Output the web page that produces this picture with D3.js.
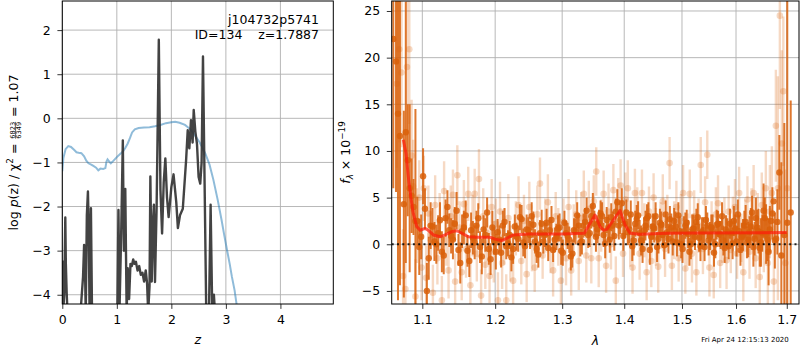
<!DOCTYPE html>
<html>
<head>
<meta charset="utf-8">
<script src="https://cdn.jsdelivr.net/npm/d3@7"></script>
<style>
body { margin: 0; background: #fff; }
svg { font-family: "DejaVu Sans", sans-serif; }
</style>
</head>
<body>
<svg id="fig" width="800" height="350"></svg>
<script>
// ---- p(z) panel data ----
const zTicks = [0, 1, 2, 3, 4];
const pTicks = [-4, -3, -2, -1, 0, 1, 2];

// chi2 curve (blue)
const chiZ = [0, 0.02, 0.06, 0.11, 0.16, 0.22, 0.26, 0.3, 0.35, 0.4, 0.44, 0.48, 0.53, 0.57, 0.62, 0.66, 0.7, 0.75, 0.79, 0.81, 0.83, 0.86, 0.89, 0.94, 1.0, 1.07, 1.12, 1.16, 1.2, 1.24, 1.28, 1.33, 1.4, 1.5, 1.6, 1.7, 1.8, 1.9, 2.0, 2.07, 2.15, 2.25, 2.35, 2.43, 2.52, 2.62, 2.7, 2.77, 2.85, 2.92, 2.97, 3.02, 3.07, 3.11, 3.16, 3.2, 3.3];
const chiVal = [-1.2, -0.9, -0.7, -0.63, -0.65, -0.72, -0.77, -0.78, -0.79, -0.86, -0.96, -1.02, -1.05, -1.08, -1.12, -1.18, -1.14, -1.15, -1.13, -0.98, -0.93, -0.98, -1.02, -0.96, -0.88, -0.8, -0.74, -0.66, -0.57, -0.45, -0.32, -0.25, -0.22, -0.21, -0.2, -0.18, -0.15, -0.11, -0.09, -0.08, -0.1, -0.15, -0.25, -0.38, -0.55, -0.79, -1.05, -1.39, -1.85, -2.3, -2.65, -2.98, -3.3, -3.59, -3.9, -4.25, -5.0];

// log p(z) curve (black)
const pzZ = [0, 0.01, 0.018, 0.035, 0.055, 0.065, 0.08, 0.095, 0.15, 0.3, 0.34, 0.38, 0.4, 0.415, 0.43, 0.45, 0.47, 0.485, 0.5, 0.525, 0.545, 0.6, 0.98, 1.01, 1.03, 1.05, 1.08, 1.11, 1.13, 1.155, 1.18, 1.2, 1.225, 1.25, 1.275, 1.3, 1.325, 1.35, 1.38, 1.41, 1.44, 1.47, 1.5, 1.53, 1.555, 1.575, 1.6, 1.615, 1.64, 1.665, 1.68, 1.7, 1.73, 1.77, 1.79, 1.8, 1.83, 1.86, 1.89, 1.92, 1.95, 2.0, 2.04, 2.09, 2.12, 2.16, 2.21, 2.27, 2.3, 2.33, 2.36, 2.39, 2.41, 2.44, 2.47, 2.5, 2.53, 2.555, 2.58, 2.61, 2.64, 2.69, 2.72, 2.75, 2.78, 2.8, 2.85];
const pzVal = [-3.3, -3.25, -4.35, -4.0, -2.25, -3.3, -3.95, -4.4, -6, -6, -4.3, -3.6, -2.87, -3.3, -4.4, -2.2, -1.66, -2.5, -4.4, -2.04, -4.4, -6, -6, -4.4, -2.08, -4.3, -2.6, -0.5, -3.0, -1.6, -4.4, -3.4, -4.1, -3.3, -3.35, -3.2, -3.3, -3.25, -3.45, -3.35, -3.55, -3.5, -3.7, -3.45, -3.75, -4.4, -3.8, -1.32, -3.7, -2.3, -1.96, -3.71, -2.0, 1.78, -0.5, -1.62, -2.61, -1.45, -0.91, -1.79, -2.24, -1.56, -1.27, -1.9, -2.49, -2.19, -2.05, -0.96, -0.27, -0.68, -0.04, -0.55, 0.19, -0.3, -0.58, -1.33, -1.48, -1.0, 1.4, -1.5, -4.4, -4.4, -1.96, -4.4, -4.0, -4.4, -6];

// ---- spectrum panel data ----
const lamTicks = [1.1, 1.2, 1.3, 1.4, 1.5, 1.6, 1.7];
const fTicks = [-5, 0, 5, 10, 15, 20, 25];

// binned spectrum (dark orange), first grid
const darkLam = [1.066, 1.071, 1.076, 1.081, 1.086, 1.091, 1.096, 1.101, 1.106, 1.111, 1.116, 1.121, 1.126, 1.131, 1.136, 1.141, 1.146, 1.151, 1.156, 1.161, 1.166, 1.171, 1.176, 1.181, 1.186, 1.191, 1.196, 1.201, 1.206, 1.211, 1.216, 1.221, 1.226, 1.231, 1.236, 1.241, 1.246, 1.251, 1.256, 1.261, 1.266, 1.271, 1.276, 1.281, 1.286, 1.291, 1.296, 1.301, 1.306, 1.311, 1.316, 1.321, 1.326, 1.331, 1.336, 1.341, 1.346, 1.351, 1.356, 1.361, 1.366, 1.371, 1.376, 1.381, 1.386, 1.391, 1.396, 1.401, 1.406, 1.411, 1.416, 1.421, 1.426, 1.431, 1.436, 1.441, 1.446, 1.451, 1.456, 1.461, 1.466, 1.471, 1.476, 1.481, 1.486, 1.491, 1.496, 1.501, 1.506, 1.511, 1.516, 1.521, 1.526, 1.531, 1.536, 1.541, 1.546, 1.551, 1.556, 1.561, 1.566, 1.571, 1.576, 1.581, 1.586, 1.591, 1.596, 1.601, 1.606, 1.611, 1.616, 1.621, 1.626, 1.631, 1.636, 1.641, 1.646, 1.651, 1.656, 1.661, 1.666, 1.671, 1.676, 1.681, 1.685, 1.689, 1.695, 1.701, 1.708];
const darkFlux = [19.6, 11.6, 4.3, 9.0, 5.2, 2.5, -0.3, 7.3, -5.0, 2.0, 0.3, 1.2, -0.8, 2.8, 1.5, 0.5, 3.6, -2.0, 1.8, -0.7, 1.5, 0.2, 2.8, -1.3, 1.0, -0.5, 1.8, -0.8, 0.5, 2.0, -0.2, 1.0, -0.5, 0.8, 2.9, 0.2, 1.6, 1.0, 2.1, -0.5, 1.2, 0.3, 2.3, 1.5, -0.6, 0.8, 1.8, -0.9, 1.2, 0.5, -1.0, 1.4, 2.0, 0.3, 2.4, 1.0, 3.0, 2.2, 1.6, 3.3, 1.0, 2.6, 0.5, 2.0, 3.5, 2.0, 4.4, 2.2, 1.3, 3.2, 0.4, 2.7, 1.2, -0.5, 2.0, 3.0, 0.8, 1.7, -0.3, 2.3, 1.0, 3.2, 0.6, 1.8, 2.5, 0.2, 1.4, -0.5, 2.0, 1.1, 0.0, 1.7, 2.4, 0.7, 1.3, -0.3, 2.0, 0.9, 1.6, 0.0, 2.2, 1.0, 0.4, 1.6, -0.2, 1.2, 2.5, 0.3, 1.4, 0.8, 2.0, 0.2, 1.3, 3.4, 0.6, 1.8, -0.4, 1.2, 2.8, 0.5, 1.6, 3.3, 0.4, 2.4, 7.7, -1.2, 1.0, 2.3, 3.4];
const darkErr = [14, 16, 10, 6, 4, 12, 3, 3, 3, 2.5, 2.1, 1.9, 2.2, 2.0, 1.8, 2.1, 2.0, 2.2, 1.8, 1.7, 1.9, 1.8, 1.6, 1.9, 1.8, 1.7, 1.8, 1.9, 1.5, 1.6, 1.4, 1.5, 1.6, 1.5, 1.4, 1.5, 1.6, 1.5, 1.4, 1.5, 1.4, 1.3, 1.5, 1.4, 1.3, 1.4, 1.5, 1.4, 1.3, 1.4, 1.5, 1.4, 1.3, 1.4, 1.5, 1.4, 1.3, 1.4, 1.5, 1.4, 1.3, 1.4, 1.4, 1.5, 1.4, 1.5, 1.6, 1.5, 1.4, 1.5, 1.6, 1.5, 1.4, 1.5, 1.6, 1.5, 1.4, 1.5, 1.6, 1.5, 1.4, 1.5, 1.6, 1.5, 1.4, 1.5, 1.6, 1.5, 1.4, 1.5, 1.6, 1.5, 1.4, 1.5, 1.6, 1.5, 1.4, 1.5, 1.6, 1.5, 1.4, 1.5, 1.6, 1.5, 1.4, 1.5, 1.6, 1.6, 1.7, 1.5, 1.6, 1.7, 1.7, 1.8, 1.8, 1.9, 2.0, 2.0, 2.2, 2.3, 2.5, 2.8, 3.0, 3.5, 4.0, 10, 12, 30, 12];

// binned spectrum (dark orange), second interleaved grid
const dark2Lam = [1.0625, 1.0685, 1.0785, 1.0835, 1.0885, 1.0935, 1.0985, 1.1035, 1.1085, 1.1135, 1.1185, 1.1235, 1.1285, 1.1335, 1.1385, 1.1435, 1.1485, 1.1535, 1.1585, 1.1635, 1.1685, 1.1735, 1.1785, 1.1835, 1.1885, 1.1935, 1.1985, 1.2035, 1.2085, 1.2135, 1.2185, 1.2235, 1.2285, 1.2335, 1.2385, 1.2435, 1.2485, 1.2535, 1.2585, 1.2635, 1.2685, 1.2735, 1.2785, 1.2835, 1.2885, 1.2935, 1.2985, 1.3035, 1.3085, 1.3135, 1.3185, 1.3235, 1.3285, 1.3335, 1.3385, 1.3435, 1.3485, 1.3535, 1.3585, 1.3635, 1.3685, 1.3735, 1.3785, 1.3835, 1.3885, 1.3935, 1.3985, 1.4035, 1.4085, 1.4135, 1.4185, 1.4235, 1.4285, 1.4335, 1.4385, 1.4435, 1.4485, 1.4535, 1.4585, 1.4635, 1.4685, 1.4735, 1.4785, 1.4835, 1.4885, 1.4935, 1.4985, 1.5035, 1.5085, 1.5135, 1.5185, 1.5235, 1.5285, 1.5335, 1.5385, 1.5435, 1.5485, 1.5535, 1.5585, 1.5635, 1.5685, 1.5735, 1.5785, 1.5835, 1.5885, 1.5935, 1.5985, 1.6035, 1.6085, 1.6135, 1.6185, 1.6235, 1.6285, 1.6335, 1.6385, 1.6435, 1.6485, 1.6535, 1.6585, 1.6635, 1.6685, 1.6735, 1.6785];
const dark2Flux = [22, 14, 12, 6.0, 4.0, 2.5, 0.8, 3.8, -1.5, 1.9, 0.0, 2.6, -1.2, 4.0, 0.9, 2.2, -0.6, 1.4, 3.1, -1.8, 0.7, 2.0, -0.3, 1.6, 3.4, -1.6, 0.4, 1.3, -0.9, 2.4, 0.1, -1.4, 1.9, 0.6, 2.7, -0.2, 1.5, 3.0, 0.3, -1.1, 2.2, 1.0, -0.4, 2.6, 0.5, 1.7, -0.7, 2.3, 0.9, -1.3, 1.5, 3.1, 0.2, 2.0, 3.6, 1.2, 4.1, 0.8, 2.3, 3.0, 0.1, 1.8, 2.9, 0.9, 4.5, 2.6, 0.9, 3.4, 1.6, -0.2, 2.2, 3.1, 0.4, 1.5, 2.8, -0.6, 1.9, 3.0, 0.6, 2.1, -0.1, 1.3, 2.7, 0.3, 1.9, 3.1, 0.0, 1.4, 2.3, -0.8, 1.6, 0.8, 2.9, -0.2, 1.5, 2.6, 0.4, 1.8, -0.9, 2.1, 1.1, 3.0, -0.4, 1.3, 2.2, 0.1, 1.7, 3.2, -0.6, 1.0, 2.4, 0.5, 1.9, -0.3, 2.8, 1.4, 0.2, 3.6, 1.1, -0.8, 2.5, 4.6, 0.6];
const dark2Err = [16, 20, 14, 9, 3, 2.6, 2.4, 2.2, 2.3, 2.0, 2.1, 1.9, 2.0, 1.8, 1.9, 1.8, 1.7, 1.8, 1.6, 1.7, 1.8, 1.6, 1.7, 1.5, 1.6, 1.7, 1.5, 1.4, 1.6, 1.5, 1.4, 1.5, 1.3, 1.4, 1.5, 1.3, 1.4, 1.5, 1.3, 1.4, 1.5, 1.3, 1.4, 1.5, 1.3, 1.4, 1.5, 1.3, 1.4, 1.5, 1.3, 1.4, 1.5, 1.3, 1.4, 1.5, 1.4, 1.6, 1.4, 1.5, 1.6, 1.4, 1.5, 1.6, 1.4, 1.5, 1.6, 1.4, 1.5, 1.6, 1.4, 1.5, 1.6, 1.4, 1.5, 1.6, 1.4, 1.5, 1.6, 1.4, 1.5, 1.6, 1.4, 1.5, 1.6, 1.4, 1.5, 1.6, 1.4, 1.5, 1.6, 1.4, 1.5, 1.6, 1.4, 1.5, 1.6, 1.4, 1.5, 1.6, 1.4, 1.5, 1.6, 1.5, 1.6, 1.7, 1.5, 1.6, 1.7, 1.7, 1.8, 1.9, 2.0, 2.1, 2.2, 2.4, 2.6, 2.9, 3.2, 3.6];

// individual exposures (light orange)
const lightLam = [1.067, 1.070, 1.073, 1.075, 1.078, 1.080, 1.083, 1.086, 1.088, 1.091, 1.093, 1.096, 1.099, 1.102, 1.105, 1.108, 1.111, 1.114, 1.117, 1.120, 1.123, 1.126, 1.129, 1.132, 1.135, 1.138, 1.141, 1.144, 1.147, 1.150, 1.153, 1.156, 1.159, 1.162, 1.165, 1.168, 1.171, 1.174, 1.177, 1.180, 1.183, 1.186, 1.189, 1.192, 1.195, 1.198, 1.201, 1.204, 1.207, 1.210, 1.213, 1.216, 1.219, 1.222, 1.226, 1.230, 1.234, 1.238, 1.242, 1.246, 1.250, 1.254, 1.258, 1.262, 1.266, 1.270, 1.274, 1.278, 1.282, 1.286, 1.290, 1.294, 1.298, 1.302, 1.306, 1.310, 1.314, 1.318, 1.322, 1.326, 1.330, 1.334, 1.338, 1.342, 1.346, 1.350, 1.354, 1.358, 1.362, 1.366, 1.370, 1.374, 1.378, 1.382, 1.386, 1.390, 1.394, 1.398, 1.402, 1.406, 1.410, 1.414, 1.418, 1.422, 1.426, 1.430, 1.434, 1.438, 1.442, 1.446, 1.450, 1.454, 1.458, 1.462, 1.466, 1.470, 1.474, 1.478, 1.482, 1.486, 1.490, 1.494, 1.498, 1.502, 1.506, 1.510, 1.514, 1.518, 1.522, 1.526, 1.530, 1.534, 1.538, 1.542, 1.546, 1.550, 1.554, 1.558, 1.562, 1.566, 1.570, 1.574, 1.578, 1.582, 1.586, 1.590, 1.594, 1.598, 1.602, 1.606, 1.610, 1.614, 1.618, 1.622, 1.626, 1.630, 1.634, 1.638, 1.642, 1.646, 1.650, 1.654, 1.658, 1.662, 1.666, 1.670, 1.674, 1.678, 1.682, 1.686, 1.690, 1.693, 1.697, 1.701];
const lightFlux = [17.2, 20.9, 18.4, -3.4, -4.8, 19.0, 20.9, 9.5, 6.2, -5.6, 2.0, 5.0, -2.5, 6.0, -3.6, 3.3, 1.0, -5.2, 4.2, -1.5, 2.5, -6.0, 5.7, 0.5, -2.8, 3.0, 5.3, -4.0, 7.4, 1.8, -3.0, 4.3, -0.5, 5.4, -4.4, 2.0, 5.4, -1.0, 7.0, -5.5, 3.0, -2.2, 1.2, -3.4, 4.0, -0.8, 2.2, -6.0, 3.5, -2.0, 0.8, -6.0, 2.8, -1.0, -3.9, 1.7, 4.2, -1.8, 2.5, -3.2, 4.0, 0.0, -2.5, 3.2, 6.5, -1.2, 2.0, 4.5, -0.4, -2.8, 3.0, 0.8, -3.9, 2.4, -1.5, 4.0, -2.8, 1.5, 3.2, -1.8, 2.8, 5.4, -1.2, 3.8, -1.5, 4.6, 7.8, -1.5, 2.0, 5.4, -2.3, 3.5, 0.0, 5.8, -3.9, 4.0, 6.3, -1.0, 4.8, 6.0, 0.3, -2.5, 5.5, 3.0, -1.0, 5.5, 1.5, -3.0, 3.5, -1.8, 5.0, 0.8, -2.4, 2.0, 4.6, -0.5, 2.6, 8.7, -2.3, 1.5, 4.0, -1.5, 2.5, 5.5, -2.6, 0.5, 5.4, -1.0, 3.0, -3.0, 2.0, 8.5, -0.5, 4.5, 9.6, -2.5, 1.8, -3.3, 3.2, 4.4, -2.0, 0.8, 2.4, -1.7, 3.5, -0.6, 2.2, 4.0, -1.0, 5.5, 0.7, -3.0, 2.0, 4.8, -0.8, 3.0, 5.5, -1.5, 2.5, -3.5, 4.2, 1.0, 6.0, -2.0, 3.5, 5.5, -4.0, 12.7, 6.0, 24.5, 10.8, 16.4, -2.0, 6.0];
const lightErr = [9, 10, 8, 5, 5, 9, 8, 6, 5, 4, 4, 4, 3.5, 3.5, 3.5, 3, 2.6, 3, 3.2, 2.8, 3, 2.6, 3.2, 2.8, 3, 3.3, 2.7, 3, 3.2, 2.8, 3, 2.6, 3.1, 2.9, 3, 3.3, 2.7, 3, 3.2, 2.8, 3, 2.6, 3.1, 2.9, 3, 3.3, 2.7, 3, 3.2, 2.8, 3, 2.8, 2.6, 3.0, 2.7, 2.9, 3.1, 2.5, 2.8, 3.0, 2.7, 2.9, 2.6, 3.1, 2.8, 2.5, 2.9, 3.0, 2.7, 2.8, 2.6, 3.1, 2.8, 2.5, 2.9, 3.0, 2.7, 2.8, 2.6, 3.1, 2.8, 2.5, 2.9, 3.0, 2.7, 2.8, 2.6, 3.1, 2.8, 2.5, 2.9, 3.0, 2.7, 2.8, 2.6, 3.1, 2.8, 2.5, 2.9, 3.0, 2.7, 2.8, 2.6, 3.1, 2.8, 2.5, 2.9, 3.0, 2.7, 2.8, 2.6, 3.1, 2.8, 2.5, 2.9, 3.0, 2.7, 2.8, 2.6, 3.1, 2.8, 2.5, 2.9, 3.0, 2.7, 2.8, 2.6, 3.1, 2.8, 2.5, 2.9, 3.0, 2.7, 2.8, 2.6, 3.1, 2.8, 2.5, 2.9, 3.0, 2.7, 2.8, 2.6, 3.1, 2.8, 2.5, 2.9, 3.0, 2.7, 2.8, 2.6, 3.1, 2.8, 2.5, 2.9, 3.0, 3.0, 3.2, 3.0, 3.5, 3.5, 4, 4, 4.5, 5, 5, 6, 6, 12, 10, 10, 8, 10];

// best-fit model (red)
const modelLam = [1.0753, 1.0788, 1.0818, 1.0849, 1.0882, 1.0927, 1.097, 1.1036, 1.1079, 1.1146, 1.1235, 1.1302, 1.1393, 1.146, 1.153, 1.1621, 1.1739, 1.1927, 1.1998, 1.2095, 1.2167, 1.2263, 1.2485, 1.2993, 1.3349, 1.3441, 1.3521, 1.3602, 1.3656, 1.3711, 1.382, 1.3931, 1.4015, 1.4099, 1.4268, 1.473, 1.5328, 1.70];
const modelFlux = [11.2, 9.75, 7.2, 5.1, 3.3, 1.9, 1.5, 1.7, 1.5, 1.0, 0.8, 1.0, 1.35, 1.45, 1.2, 0.8, 0.75, 0.75, 0.55, 0.4, 0.64, 1.0, 1.1, 1.1, 1.18, 2.25, 3.14, 1.9, 1.5, 1.6, 2.6, 3.6, 2.07, 1.18, 1.07, 1.18, 1.2, 1.25];

const FS = 12.5;
const svg = d3.select('#fig');

const L = {x0: 62.3, x1: 333.3, y0: 1, y1: 304};
const R = {x0: 391.7, x1: 799, y0: 1, y1: 304};

const xz = d3.scaleLinear().domain([0, 4.97]).range([L.x0, L.x1]);
const yp = d3.scaleLinear().domain([-4.21, 2.66]).range([L.y1, L.y0]);
const xl = d3.scaleLog().domain([1.0605, 1.725]).range([R.x0, R.x1]);
const yf = d3.scaleLinear().domain([-6.4, 26.07]).range([R.y1, R.y0]);

const defs = svg.append('defs');
[['clipL', L], ['clipR', R]].forEach(function(c) {
  defs.append('clipPath').attr('id', c[0]).append('rect')
    .attr('x', c[1].x0).attr('y', c[1].y0)
    .attr('width', c[1].x1 - c[1].x0).attr('height', c[1].y1 - c[1].y0);
});

function drawGrid(box, x, y, xt, yt) {
  const g = svg.append('g').attr('stroke', '#b0b0b0').attr('stroke-width', 0.9);
  xt.forEach(function(t) {
    g.append('line').attr('x1', x(t)).attr('x2', x(t)).attr('y1', box.y0).attr('y2', box.y1);
  });
  yt.forEach(function(t) {
    g.append('line').attr('x1', box.x0).attr('x2', box.x1).attr('y1', y(t)).attr('y2', y(t));
  });
}

function drawFrame(box, x, y, xt, yt, xfmt) {
  const ax = svg.append('g').attr('transform', `translate(0,${box.y1})`)
    .call(d3.axisBottom(x).tickValues(xt).tickFormat(xfmt).tickSize(4.9).tickPadding(6.6));
  const ay = svg.append('g').attr('transform', `translate(${box.x0},0)`)
    .call(d3.axisLeft(y).tickValues(yt).tickFormat(d3.format('d')).tickSize(4.9).tickPadding(6.6));
  [ax, ay].forEach(function(a) {
    a.select('.domain').remove();
    a.selectAll('text').attr('font-size', FS).attr('font-family', '"DejaVu Sans", sans-serif').attr('fill', '#000');
    a.selectAll('line').attr('stroke', '#000').attr('stroke-width', 0.8);
  });
  svg.append('rect').attr('x', box.x0).attr('y', box.y0)
    .attr('width', box.x1 - box.x0).attr('height', box.y1 - box.y0)
    .attr('fill', 'none').attr('stroke', '#000').attr('stroke-width', 1);
}

// ---------- left panel ----------
drawGrid(L, xz, yp, zTicks, pTicks);
const gl = svg.append('g').attr('clip-path', 'url(#clipL)');

const chiLine = d3.line().x(function(d, i) { return xz(chiZ[i]); }).y(function(d) { return yp(d); });
gl.append('path').attr('d', chiLine(chiVal))
  .attr('fill', 'none').attr('stroke', '#1f77b4').attr('stroke-opacity', 0.5).attr('stroke-width', 2);

const pzLine = d3.line().x(function(d, i) { return xz(pzZ[i]); }).y(function(d) { return yp(d); });
gl.append('path').attr('d', pzLine(pzVal))
  .attr('fill', 'none').attr('stroke', '#333').attr('stroke-opacity', 0.92).attr('stroke-width', 2.4)
  .attr('stroke-linejoin', 'round');

drawFrame(L, xz, yp, zTicks, pTicks, d3.format('d'));

svg.append('text').attr('x', 319).attr('y', 24).attr('text-anchor', 'end')
  .attr('font-size', FS).text('j104732p5741');
svg.append('text').attr('x', 319).attr('y', 39).attr('text-anchor', 'end')
  .attr('font-size', FS).style('white-space', 'pre').text('ID=134    z=1.7887');

svg.append('text').attr('x', (L.x0 + L.x1) / 2).attr('y', 343.5).attr('text-anchor', 'middle')
  .attr('font-size', FS).attr('font-style', 'italic').text('z');

// y label with fraction
const lab = svg.append('g').attr('transform', `translate(17.5,${(L.y0 + L.y1) / 2}) rotate(-90)`);
const inner = lab.append('g');
const t1 = inner.append('text').attr('font-size', FS);
t1.append('tspan').text('log ');
t1.append('tspan').attr('font-style', 'italic').text('p');
t1.append('tspan').text('(z) / χ');
t1.append('tspan').attr('font-size', 8.8).attr('dy', -5).text('2');
t1.append('tspan').attr('dy', 5).style('white-space', 'pre').text(' = ');
const w1 = t1.node().getComputedTextLength();
const fr = inner.append('g').attr('transform', `translate(${w1 + 1},0)`);
const num = fr.append('text').attr('font-size', 6.6).attr('y', -2.9).text('6823');
const den = fr.append('text').attr('font-size', 6.6).attr('y', 3.5).text('6349');
const wf = Math.max(num.node().getComputedTextLength(), den.node().getComputedTextLength());
fr.append('line').attr('x1', 0).attr('x2', wf).attr('y1', -1.9).attr('y2', -1.9)
  .attr('stroke', '#000').attr('stroke-width', 0.6);
const t3 = inner.append('text').attr('font-size', FS).attr('x', w1 + wf + 2)
  .style('white-space', 'pre').text(' = 1.07');
const total = w1 + wf + 2 + t3.node().getComputedTextLength();
inner.attr('transform', `translate(${-total / 2},0)`);

// ---------- right panel ----------
drawGrid(R, xl, yf, lamTicks, fTicks);
const gr = svg.append('g').attr('clip-path', 'url(#clipR)');
const orange = '#d9600a';

function errorSeries(lam, flux, err, opacity, lw, r) {
  const idx = d3.range(lam.length);
  gr.append('g').selectAll('line').data(idx).join('line')
    .attr('x1', function(i) { return xl(lam[i]); }).attr('x2', function(i) { return xl(lam[i]); })
    .attr('y1', function(i) { return yf(flux[i] - err[i]); })
    .attr('y2', function(i) { return yf(flux[i] + err[i]); })
    .attr('stroke', orange).attr('stroke-opacity', opacity).attr('stroke-width', lw);
  gr.append('g').selectAll('circle').data(idx).join('circle')
    .attr('cx', function(i) { return xl(lam[i]); }).attr('cy', function(i) { return yf(flux[i]); })
    .attr('r', r).attr('fill', orange).attr('fill-opacity', opacity);
}

errorSeries(lightLam, lightFlux, lightErr, 0.24, 2.4, 3.3);
errorSeries(darkLam, darkFlux, darkErr, 0.85, 2, 3.2);
errorSeries(dark2Lam, dark2Flux, dark2Err, 0.85, 2, 3.2);

// zero level
gr.append('line').attr('x1', R.x0).attr('x2', R.x1).attr('y1', yf(0)).attr('y2', yf(0))
  .attr('stroke', '#000').attr('stroke-width', 2).attr('stroke-dasharray', '2,3.3').attr('stroke-opacity', 0.85);

const modelLine = d3.line().x(function(d, i) { return xl(modelLam[i]); }).y(function(d) { return yf(d); });
gr.append('path').attr('d', modelLine(modelFlux))
  .attr('fill', 'none').attr('stroke', '#ff1a0a').attr('stroke-opacity', 0.7).attr('stroke-width', 3)
  .attr('stroke-linejoin', 'round');

drawFrame(R, xl, yf, lamTicks, fTicks, d3.format('.1f'));

svg.append('text').attr('x', (R.x0 + R.x1) / 2).attr('y', 345).attr('text-anchor', 'middle')
  .attr('font-size', FS).attr('font-style', 'italic').text('λ');

const rl = svg.append('text').attr('transform', `translate(349.5,${(R.y0 + R.y1) / 2}) rotate(-90)`)
  .attr('text-anchor', 'middle').attr('font-size', FS);
rl.append('tspan').attr('font-style', 'italic').text('f');
rl.append('tspan').attr('font-style', 'italic').attr('font-size', 8.8).attr('dy', 3).text('λ');
rl.append('tspan').attr('dy', -3).style('white-space', 'pre').text(' × 10');
rl.append('tspan').attr('font-size', 8.8).attr('dy', -5).text('−19');

svg.append('text').attr('x', 745).attr('y', 342).attr('text-anchor', 'middle')
  .attr('font-size', 7).text('Fri Apr 24 12:15:13 2020');
</script>
</body>
</html>
